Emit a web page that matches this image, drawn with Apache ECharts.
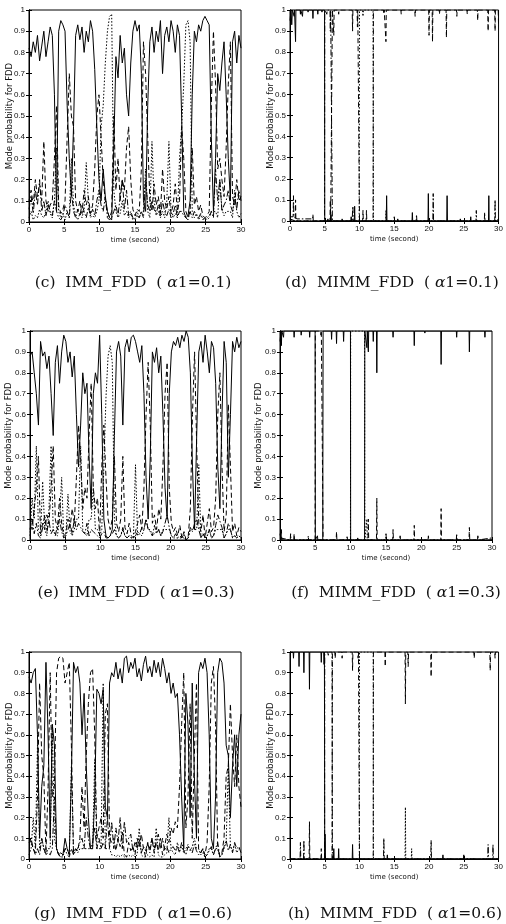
<!DOCTYPE html>
<html><head><meta charset="utf-8">
<script src="https://cdn.jsdelivr.net/npm/echarts@6/dist/echarts.min.js"></script>
<style>html,body{margin:0;padding:0;background:#fff}#c{width:506px;height:924px}</style>
</head><body><div id="c"></div>
<script>
// ---------- DATA ----------
const STEP = 0.3; // sampling step (s) of the IMM traces
const xTicks = [0, 5, 10, 15, 20, 25, 30];
const captions = [
  '(c)  IMM_FDD  ( {a|\u03b1}1=0.1)', '(d)  MIMM_FDD  ( {a|\u03b1}1=0.1)',
  '(e)  IMM_FDD  ( {a|\u03b1}1=0.3)', '(f)  MIMM_FDD  ( {a|\u03b1}1=0.3)',
  '(g)  IMM_FDD  ( {a|\u03b1}1=0.6)', '(h)  MIMM_FDD  ( {a|\u03b1}1=0.6)'
];
const yName = 'Mode probability for FDD';
const xName = 'time (second)';

// (c) IMM, alpha1 = 0.1
const c_solid = [
 .82,.78,.85,.80,.88,.76,.83,.90,.78,.85,
 .92,.88,.60,.05,.90,.95,.93,.90,.55,.30,
 .12,.45,.88,.93,.86,.92,.80,.90,.85,.95,
 .90,.72,.45,.20,.10,.25,.12,.05,.02,.01,
 .35,.78,.68,.88,.75,.82,.60,.50,.75,.90,
 .95,.90,.93,.70,.10,.05,.55,.85,.92,.80,
 .90,.85,.95,.70,.88,.92,.85,.95,.90,.80,
 .93,.88,.50,.05,.02,.03,.10,.60,.90,.85,
 .93,.90,.95,.97,.95,.93,.40,.05,.30,.70,
 .62,.75,.85,.60,.30,.10,.85,.90,.75,.88,
 .82];
const c_dash = [
 .10,.15,.08,.20,.12,.18,.10,.38,.10,.05,
 .08,.10,.30,.55,.08,.04,.06,.10,.40,.70,
 .50,.45,.10,.05,.10,.04,.15,.08,.12,.04,
 .08,.25,.50,.60,.40,.20,.10,.05,.02,.05,
 .50,.15,.30,.10,.20,.15,.35,.45,.20,.06,
 .03,.06,.05,.25,.85,.70,.40,.10,.05,.18,
 .08,.12,.04,.25,.10,.06,.12,.04,.08,.18,
 .05,.10,.45,.30,.05,.02,.05,.35,.08,.12,
 .05,.08,.03,.02,.03,.05,.55,.90,.65,.25,
 .30,.20,.12,.35,.65,.85,.12,.08,.20,.10,
 .12];
const c_dot = [
 .02,.05,.01,.03,.02,.06,.03,.02,.05,.10,
 .04,.02,.10,.35,.05,.02,.04,.01,.05,.02,
 .30,.08,.03,.01,.04,.02,.06,.28,.10,.02,
 .03,.02,.05,.10,.45,.55,.75,.90,.97,.98,
 .15,.05,.02,.04,.10,.03,.05,.02,.04,.01,
 .02,.05,.02,.05,.05,.25,.05,.02,.38,.10,
 .03,.05,.02,.05,.02,.10,.38,.05,.02,.04,
 .02,.30,.45,.65,.93,.95,.85,.05,.02,.04,
 .01,.03,.02,.01,.02,.03,.05,.05,.05,.02,
 .20,.06,.03,.05,.05,.05,.02,.15,.05,.02,
 .04];
const c_dashdot = [
 .06,.12,.04,.15,.08,.20,.05,.10,.03,.08,
 .05,.03,.10,.05,.02,.01,.03,.08,.05,.02,
 .15,.05,.02,.06,.03,.08,.05,.02,.07,.03,
 .06,.03,.10,.15,.08,.05,.12,.02,.01,.02,
 .05,.08,.03,.12,.20,.06,.15,.03,.05,.02,
 .01,.03,.02,.05,.02,.20,.08,.05,.10,.06,
 .04,.08,.03,.10,.05,.03,.06,.02,.04,.08,
 .02,.05,.05,.03,.02,.01,.05,.02,.05,.03,
 .02,.04,.01,.02,.01,.02,.05,.02,.25,.10,
 .20,.05,.08,.10,.15,.08,.05,.12,.06,.15,
 .10];

// (e) IMM, alpha1 = 0.3
const e_solid = [
 .88,.90,.80,.70,.55,.95,.88,.90,.82,.88,
 .70,.50,.85,.93,.75,.90,.98,.95,.85,.90,
 .78,.88,.60,.35,.55,.80,.70,.75,.40,.15,
 .70,.80,.75,.98,.60,.10,.02,.01,.02,.05,
 .50,.90,.95,.88,.55,.92,.96,.90,.97,.98,
 .95,.90,.85,.93,.70,.30,.10,.40,.90,.85,
 .92,.80,.88,.60,.25,.10,.70,.90,.95,.93,
 .97,.92,.98,.95,1.0,.97,.80,.35,.05,.50,
 .90,.95,.85,.98,.90,.80,.95,.92,.75,.35,
 .15,.60,.95,.85,.30,.60,.95,.90,.97,.92,
 .95];
const e_dash = [
 .10,.05,.15,.25,.40,.03,.08,.05,.12,.08,
 .25,.45,.10,.05,.20,.08,.02,.03,.10,.06,
 .15,.08,.30,.55,.40,.15,.25,.20,.50,.75,
 .25,.15,.20,.02,.35,.55,.30,.10,.05,.10,
 .40,.08,.04,.10,.40,.06,.03,.08,.02,.01,
 .04,.08,.12,.05,.25,.60,.85,.55,.08,.12,
 .05,.15,.10,.35,.70,.85,.25,.08,.04,.06,
 .02,.07,.01,.04,.00,.02,.15,.60,.90,.45,
 .08,.04,.12,.01,.08,.15,.04,.06,.20,.60,
 .80,.35,.04,.12,.65,.35,.04,.08,.02,.06,
 .04];
const e_dot = [
 .02,.20,.10,.45,.05,.02,.28,.05,.02,.15,
 .45,.05,.03,.02,.10,.30,.01,.02,.22,.04,
 .02,.05,.10,.10,.45,.05,.03,.02,.10,.10,
 .25,.05,.05,.02,.05,.35,.68,.88,.93,.85,
 .10,.02,.01,.02,.05,.02,.01,.02,.01,.01,
 .36,.02,.03,.02,.05,.10,.05,.05,.02,.03,
 .04,.05,.02,.05,.05,.05,.05,.02,.01,.01,
 .01,.01,.01,.01,.00,.01,.05,.05,.05,.05,
 .36,.01,.03,.01,.02,.05,.01,.02,.05,.05,
 .05,.05,.01,.03,.05,.05,.01,.02,.01,.02,
 .01];
const e_dashdot = [
 .05,.10,.03,.08,.02,.01,.06,.12,.04,.09,
 .03,.05,.02,.07,.10,.04,.01,.02,.05,.08,
 .03,.10,.05,.08,.06,.04,.03,.08,.02,.05,
 .04,.03,.02,.01,.03,.04,.01,.01,.02,.03,
 .05,.02,.01,.02,.06,.02,.01,.02,.01,.01,
 .02,.04,.03,.06,.05,.10,.05,.04,.02,.07,
 .03,.05,.02,.04,.08,.12,.06,.02,.01,.03,
 .01,.02,.01,.03,.00,.01,.06,.04,.08,.10,
 .05,.01,.03,.01,.02,.05,.01,.02,.07,.12,
 .09,.06,.01,.03,.08,.05,.01,.02,.01,.02,
 .01];

// (g) IMM, alpha1 = 0.6
const g_solid = [
 .88,.85,.90,.92,.60,.10,.35,.45,.95,.60,
 .10,.65,.55,.05,.02,.03,.02,.10,.05,.02,
 .40,.95,.90,.93,.85,.60,.80,.45,.20,.05,
 .05,.30,.82,.80,.75,.82,.25,.20,.85,.90,
 .88,.95,.87,.92,.85,.97,.98,.90,.95,.92,
 .97,.88,.92,.86,.94,.98,.90,.93,.88,.96,
 .90,.95,.88,.97,.92,.85,.90,.80,.85,.78,
 .80,.60,.30,.05,.80,.65,.20,.85,.40,.10,
 .90,.95,.92,.97,.90,.60,.10,.05,.30,.90,
 .97,.95,.85,.55,.50,.20,.45,.60,.35,.60,
 .70];
const g_dash = [
 .08,.10,.05,.03,.30,.85,.50,.40,.03,.35,
 .90,.30,.35,.90,.97,.98,.97,.85,.90,.95,
 .55,.03,.05,.04,.10,.35,.15,.50,.75,.90,
 .92,.60,.10,.15,.20,.10,.70,.75,.10,.08,
 .10,.04,.10,.06,.13,.02,.01,.08,.04,.06,
 .02,.10,.06,.12,.05,.01,.08,.05,.10,.03,
 .08,.04,.10,.02,.06,.12,.08,.15,.12,.18,
 .15,.35,.65,.90,.15,.30,.75,.10,.50,.85,
 .05,.03,.05,.02,.08,.35,.85,.93,.65,.05,
 .02,.03,.10,.40,.45,.75,.50,.35,.60,.35,
 .25];
const g_dot = [
 .02,.05,.20,.05,.55,.05,.10,.05,.02,.05,
 .05,.65,.10,.05,.02,.01,.01,.05,.05,.02,
 .45,.02,.05,.03,.05,.05,.05,.05,.05,.05,
 .05,.48,.05,.05,.05,.85,.05,.05,.05,.02,
 .02,.01,.02,.01,.02,.01,.01,.02,.01,.02,
 .01,.02,.15,.02,.01,.01,.02,.01,.02,.01,
 .15,.02,.01,.01,.02,.03,.20,.05,.03,.02,
 .08,.04,.06,.03,.05,.07,.04,.06,.10,.05,
 .05,.02,.03,.01,.02,.05,.05,.02,.05,.05,
 .01,.02,.05,.08,.45,.06,.04,.07,.03,.05,
 .05];
const g_dashdot = [
 .10,.08,.05,.02,.05,.02,.10,.05,.02,.03,
 .02,.05,.30,.05,.02,.01,.02,.05,.02,.01,
 .05,.02,.04,.05,.08,.10,.05,.20,.10,.05,
 .08,.15,.05,.10,.05,.08,.05,.20,.05,.18,
 .05,.15,.08,.20,.05,.18,.08,.10,.12,.04,
 .08,.05,.10,.03,.06,.04,.08,.03,.10,.05,
 .08,.12,.05,.10,.04,.06,.03,.05,.06,.04,
 .06,.03,.08,.04,.02,.06,.05,.03,.07,.04,
 .02,.03,.05,.01,.02,.04,.06,.02,.05,.08,
 .01,.02,.06,.09,.04,.07,.03,.08,.05,.06,
 .03];

// (d) MIMM, alpha1 = 0.1 : [time, probability]
const d_solid = [[0,.95],[.15,1],[.25,.93],[.35,1],[.55,1],[.6,.97],[.65,1],[.75,1],[.8,.85],[.85,1],[1.45,1],[1.5,.98],[1.55,1],[1.75,1],[1.8,.97],[1.85,1],[2.55,1],[2.6,.99],[2.65,1],[3.25,1],[3.3,.96],[3.35,1],[3.95,1],[4,.98],[4.05,1],[4.55,1],[4.6,.99],[4.65,1],[4.97,1],
 [5,0],[5.4,0],[5.45,.01],[5.5,0],[5.85,0],[5.9,.03],[5.95,0],[7.45,0],[7.5,.01],[7.55,0],[8.75,0],[8.8,.02],[8.85,0],[9.25,0],[9.3,.07],[9.35,0],[13.85,0],[13.9,.12],[13.95,0],[15.45,0],[15.5,.01],[15.55,0],[17.55,0],[17.6,.04],[17.65,0],[19.85,0],[19.9,.13],[19.95,0],[22.55,0],[22.6,.12],[22.65,0],[24.45,0],[24.5,.01],[24.55,0],[25.95,0],[26,.02],[26.05,0],[28.55,0],[28.6,.12],[28.65,0],[30,0]];
const d_dashdot = [[0,.02],[.45,.02],[.5,.12],[.55,.02],[1,.01],[3.25,.01],[3.3,.03],[3.35,0],[4.97,0],[5,1],[5.25,1],[5.3,.98],[5.35,1],[5.75,1],[5.8,.9],[5.85,1],[6.05,1],[6.1,0],[8.95,0],[9,.05],[9.05,.07],[9.1,0],[14.95,0],[15,.02],[15.05,0],[18.15,0],[18.2,.03],[18.25,0],[20.55,0],[20.6,.13],[20.65,0],[26.75,0],[26.8,.05],[26.85,0],[27.95,0],[28,.04],[28.05,0],[29.45,0],[29.5,.1],[29.55,0],[30,.01]];
const d_dash = [[0,.01],[.75,0],[.8,.1],[.85,0],[5.75,0],[5.8,.1],[5.85,0],[6.05,0],[6.1,1],[6.25,1],[6.3,.88],[6.35,1],[6.95,1],[7,.98],[7.05,1],[8.95,1],[9,.9],[9.05,1],[9.65,1],[9.7,.92],[9.75,1],[9.95,1],
 [10,0],[10.45,0],[10.5,.05],[10.55,0],[10.95,0],[11,.05],[11.05,0],[11.95,0],
 [12,1],[13.45,1],[13.5,.98],[13.55,1],[13.75,1],[13.8,.85],[13.85,1],[15.95,1],[16,.98],[16.05,1],[17.95,1],[18,.97],[18.05,1],[19.95,1],[20,.88],[20.05,1],[20.45,1],[20.5,.85],[20.55,1],[21.45,1],[21.5,.98],[21.55,1],[22.45,1],[22.5,.87],[22.55,1],[23.95,1],[24,.97],[24.05,1],[25.45,1],[25.5,.98],[25.55,1],[26.95,1],[27,.95],[27.05,1],[28.45,1],[28.5,.9],[28.55,1],[29.45,1],[29.5,.9],[29.55,1],[29.95,1],[30,.93]];
const d_dot = [[0,0],[9.95,0],[10,1],[10.45,1],[10.5,.97],[10.55,1],[11.95,1],[12,0],[13.75,0],[13.8,.05],[13.85,0],[30,0]];

// (f) MIMM, alpha1 = 0.3
const f_solid = [[0,.95],[.15,1],[.2,.93],[.25,1],[.45,1],[.5,.97],[.55,1],[1.95,1],[2,.97],[2.05,1],[2.95,1],[3,.98],[3.05,1],[4.15,1],[4.2,.97],[4.25,1],[4.97,1],
 [5,0],[5.25,0],[5.3,.02],[5.35,0],[6.05,0],
 [6.1,1],[7.25,1],[7.3,.96],[7.35,1],[7.95,1],[8,.94],[8.05,1],[8.95,1],[9,.95],[9.05,1],[9.97,1],
 [10,0],[10.95,0],[11,.01],[11.05,0],[11.97,0],
 [12,1],[12.25,1],[12.3,.92],[12.35,1],[12.45,1],[12.5,.9],[12.55,1],[13.15,1],[13.2,.95],[13.25,1],[13.65,1],[13.7,.8],[13.75,1],[15.95,1],[16,.97],[16.05,1],[18.95,1],[19,.93],[19.05,1],[20.45,1],[20.5,.99],[20.55,1],[22.75,1],[22.8,.84],[22.85,1],[24.95,1],[25,.97],[25.05,1],[26.75,1],[26.8,.9],[26.85,1],[28.95,1],[29,.97],[29.05,1],[30,1]];
const f_dash = [[0,.03],[.15,0],[.2,.05],[.25,0],[1.95,0],[2,.03],[2.05,0],[4.97,0],[5,1],[5.75,1],[5.8,.98],[5.85,1],[6.05,1],[6.1,0],[7.95,0],[8,.04],[8.05,0],[12.45,0],[12.5,.1],[12.55,0],[13.65,0],[13.7,.2],[13.75,0],[15.95,0],[16,.05],[16.05,0],[18.95,0],[19,.07],[19.05,0],[22.75,0],[22.8,.15],[22.85,0],[26.75,0],[26.8,.06],[26.85,0],[30,0]];
const f_dashdot = [[0,.01],[1.45,0],[1.5,.03],[1.55,0],[3.95,0],[4,.02],[4.05,0],[9.45,0],[9.5,.02],[9.55,0],[14.95,0],[15,.03],[15.05,0],[16.95,0],[17,.02],[17.05,0],[20.95,0],[21,.02],[21.05,0],[24.95,0],[25,.03],[25.05,0],[27.95,0],[28,.02],[28.05,0],[30,.01]];
const f_dot = [[0,0],[9.97,0],[10,1],[11.97,1],[12,0],[12.25,0],[12.3,.1],[12.35,0],[30,0]];

// (h) MIMM, alpha1 = 0.6
const h_solid = [[0,1],[.45,1],[.5,.97],[.55,1],[1.25,1],[1.3,.93],[1.35,1],[1.95,1],[2,.9],[2.05,1],[2.75,1],[2.8,.82],[2.85,1],[4.45,1],[4.5,.95],[4.55,1],[4.85,1],[4.9,.94],[4.95,1],[4.97,1],
 [5,0],[5.05,.12],[5.1,0],[6.25,0],[6.3,.05],[6.35,0],[6.95,0],[7,.05],[7.05,0],[8.95,0],[9,.07],[9.05,0],[13.95,0],[14,.02],[14.05,0],[21.95,0],[22,.02],[22.05,0],[24.95,0],[25,.02],[25.05,0],[30,0]];
const h_dashdot = [[0,0],[1.45,0],[1.5,.08],[1.55,0],[1.95,0],[2,.09],[2.05,0],[4.97,0],[5,1],[5.45,1],[5.5,.98],[5.55,1],[6.05,1],[6.1,0],[13.45,0],[13.5,.1],[13.55,0],[20.25,0],[20.3,.09],[20.35,0],[28.45,0],[28.5,.07],[28.55,0],[29.15,0],[29.2,.07],[29.25,0],[30,0]];
const h_dash = [[0,0],[2.75,0],[2.8,.18],[2.85,0],[4.45,0],[4.5,.05],[4.55,0],[6.05,0],
 [6.1,1],[6.45,1],[6.5,.97],[6.55,1],[7.45,1],[7.5,.97],[7.55,1],[8.95,1],[9,.91],[9.05,1],[9.75,1],[9.8,.97],[9.85,1],[9.97,1],
 [10,0],[11.97,0],
 [12,1],[13.65,1],[13.7,.93],[13.75,1],[16.55,1],[16.6,.75],[16.65,1],[16.95,1],[17,.93],[17.05,1],[20.25,1],[20.3,.88],[20.35,1],[26.45,1],[26.5,.97],[26.55,1],[28.75,1],[28.8,.91],[28.85,1],[29.45,1],[29.5,.97],[29.55,1],[30,1]];
const h_dot = [[0,0],[9.97,0],[10,1],[11.97,1],[12,0],[16.55,0],[16.6,.25],[16.65,0],[17.45,0],[17.5,.05],[17.55,0],[30,0]];

// ---------- LAYOUT / STYLE ----------
const boxes = [
  {left:29, top:10, width:212, height:212, nameGap:15, cap:283, capX:133},
  {left:290, top:10, width:211, height:211, nameGap:15, cap:283, capX:392},
  {left:30, top:331, width:211, height:209, nameGap:17, cap:593, capX:136},
  {left:280, top:331, width:212, height:209, nameGap:17, cap:593, capX:396},
  {left:29, top:652, width:212, height:207, nameGap:15, cap:914, capX:133},
  {left:290, top:652, width:211, height:207, nameGap:15, cap:914, capX:395}
];
const dashes = {solid:'solid', dash:[5,3], dot:[1.5,1.8], dashdot:[6,2,1.5,2]};
const imm = arr => arr.map((v,i)=>[Math.round(i*STEP*100)/100, v]);
const panels = [
  [['dashdot', imm(c_dashdot)], ['dot', imm(c_dot)], ['dash', imm(c_dash)], ['solid', imm(c_solid)]],
  [['dashdot', d_dashdot], ['dot', d_dot], ['dash', d_dash], ['solid', d_solid]],
  [['dashdot', imm(e_dashdot)], ['dot', imm(e_dot)], ['dash', imm(e_dash)], ['solid', imm(e_solid)]],
  [['dashdot', f_dashdot], ['dot', f_dot], ['dash', f_dash], ['solid', f_solid]],
  [['dashdot', imm(g_dashdot)], ['dot', imm(g_dot)], ['dash', imm(g_dash)], ['solid', imm(g_solid)]],
  [['dashdot', h_dashdot], ['dot', h_dot], ['dash', h_dash], ['solid', h_solid]]
];

const tickFont = {fontSize:8, color:'#111', fontFamily:'Liberation Sans, Arial, sans-serif'};
const grid = [], xAxis = [], yAxis = [], series = [], graphic = [];
boxes.forEach((b, k) => {
  grid.push({left:b.left, top:b.top, width:b.width, height:b.height, show:true, borderColor:'#000', borderWidth:1, backgroundColor:'#fff'});
  const xi = xAxis.length, yi = yAxis.length;
  xAxis.push({type:'value', gridIndex:k, min:xTicks[0], max:xTicks[xTicks.length-1], interval:5, position:'bottom',
    axisLine:{show:true, lineStyle:{color:'#000'}}, axisTick:{inside:true, length:3, lineStyle:{color:'#000'}},
    splitLine:{show:false}, axisLabel:Object.assign({margin:4}, tickFont),
    name:xName, nameLocation:'middle', nameGap:15, nameMoveOverlap:false,
    nameTextStyle:{fontSize:7, color:'#111', fontFamily:'DejaVu Sans, sans-serif'}});
  xAxis.push({type:'value', gridIndex:k, min:0, max:30, interval:5, position:'top',
    axisLine:{show:true, lineStyle:{color:'#000'}}, axisTick:{inside:true, length:3, lineStyle:{color:'#000'}},
    splitLine:{show:false}, axisLabel:{show:false}});
  yAxis.push({type:'value', gridIndex:k, min:0, max:1, interval:0.1, position:'left',
    axisLine:{show:true, lineStyle:{color:'#000'}}, axisTick:{inside:true, length:3, lineStyle:{color:'#000'}},
    splitLine:{show:false}, axisLabel:Object.assign({margin:4}, tickFont),
    name:yName, nameLocation:'middle', nameGap:b.nameGap, nameMoveOverlap:false,
    nameTextStyle:{fontSize:8.5, color:'#111', fontFamily:'DejaVu Sans, sans-serif'}});
  yAxis.push({type:'value', gridIndex:k, min:0, max:1, interval:0.1, position:'right',
    axisLine:{show:true, lineStyle:{color:'#000'}}, axisTick:{inside:true, length:3, lineStyle:{color:'#000'}},
    splitLine:{show:false}, axisLabel:{show:false}});
  panels[k].forEach(([sty, data]) => {
    series.push({type:'line', xAxisIndex:xi, yAxisIndex:yi, data:data, showSymbol:false, symbol:'none',
      animation:false, lineStyle:{color:'#000', width:1, type:dashes[sty]}});
  });
  graphic.push({type:'text', x:b.capX, y:b.cap, style:{text:captions[k], fill:'#111',
    fontSize:15.5, fontFamily:'DejaVu Serif, serif', align:'center', verticalAlign:'middle',
    rich:{a:{fontSize:15.5, fontFamily:'DejaVu Serif, serif', fontStyle:'italic', fill:'#111'}}}});
});

const chart = echarts.init(document.getElementById('c'), null, {renderer:'canvas'});
chart.setOption({animation:false, grid, xAxis, yAxis, series, graphic});
</script></body></html>
